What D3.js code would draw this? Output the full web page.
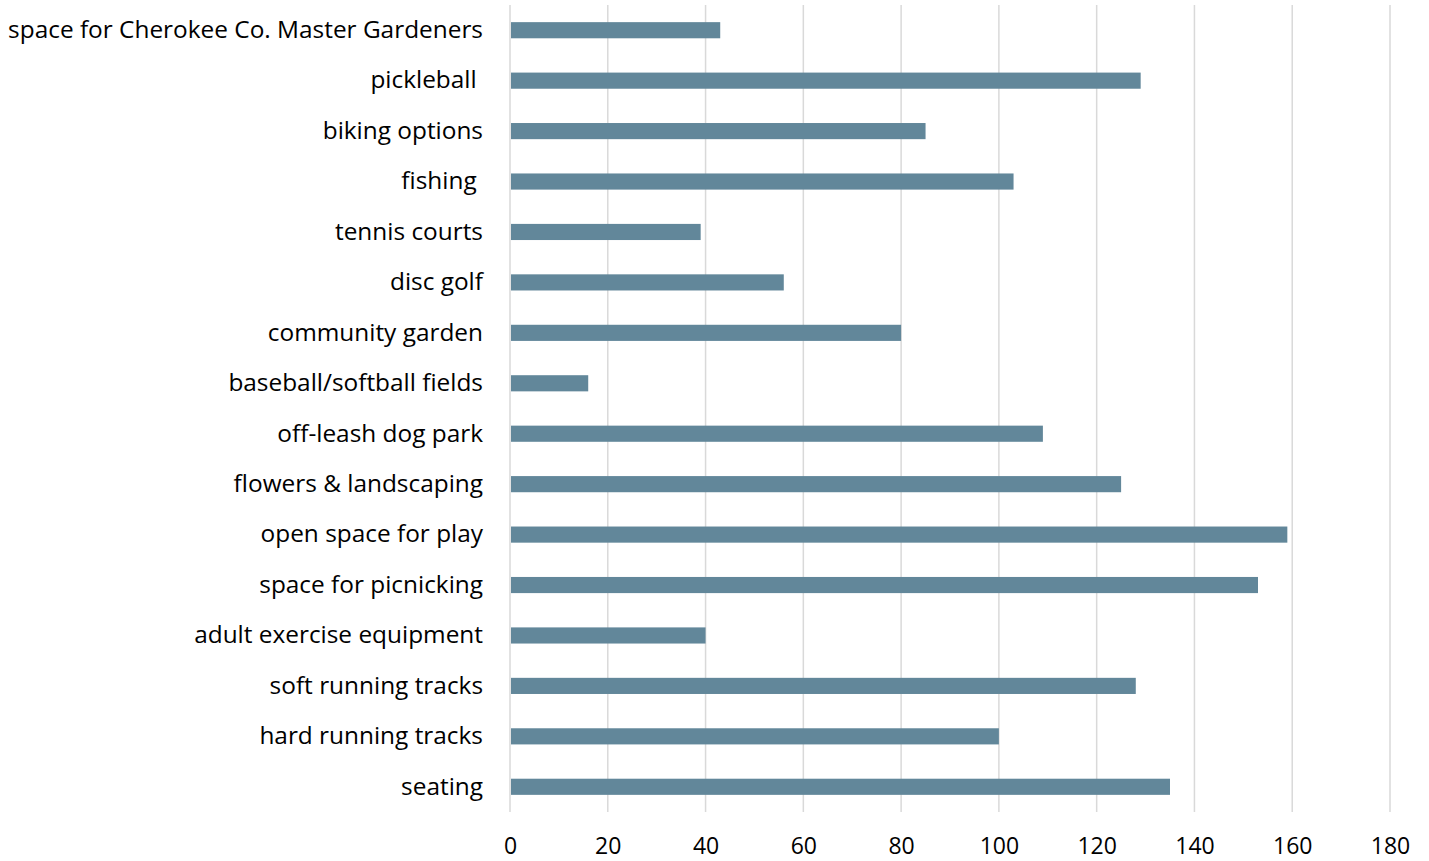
<!DOCTYPE html>
<html>
<head>
<meta charset="utf-8">
<script src="https://d3js.org/d3.v7.min.js"></script>
<style>
  body { margin: 0; background: #fff; }
  text { font-family: "Open Sans", sans-serif; fill: #000; }
</style>
</head>
<body>
<div id="chart"></div>
<script>
// categories from top to bottom, as in the picture
var categories = [
  "space for Cherokee Co. Master Gardeners",
  "pickleball ",
  "biking options",
  "fishing ",
  "tennis courts",
  "disc golf",
  "community garden",
  "baseball/softball fields",
  "off-leash dog park",
  "flowers & landscaping",
  "open space for play",
  "space for picnicking",
  "adult exercise equipment",
  "soft running tracks",
  "hard running tracks",
  "seating"
];
var counts = [43, 129, 85, 103, 39, 56, 80, 16, 109, 125, 159, 153, 40, 128, 100, 135];
var xTicks = [0, 20, 40, 60, 80, 100, 120, 140, 160, 180];

var data = categories.map(function (c, i) {
  return { name: c, value: counts[i] };
});

// set the dimensions and margins of the graph
var margin = { top: 5, right: 39, bottom: 49, left: 510 },
  width = 1429 - margin.left - margin.right,
  height = 861 - margin.top - margin.bottom;

var svg = d3
  .select("#chart")
  .append("svg")
  .attr("width", 1429)
  .attr("height", 861)
  .append("g")
  .attr("transform", "translate(" + margin.left + "," + margin.top + ")");

var x = d3.scaleLinear().domain([0, 180]).range([0, width]);
var y = d3.scaleBand().domain(categories).range([0, height]).paddingInner(0.68).paddingOuter(0.34);

// vertical gridlines
svg
  .append("g")
  .selectAll("line")
  .data(xTicks)
  .enter()
  .append("line")
  .attr("x1", function (d) { return x(d); })
  .attr("x2", function (d) { return x(d); })
  .attr("y1", 0)
  .attr("y2", height)
  .style("stroke", "#d9d9d9")
  .style("stroke-width", 1.5);

// bars
svg
  .selectAll("rect")
  .data(data)
  .enter()
  .append("rect")
  .attr("x", x(0) + 1)
  .attr("y", function (d) { return y(d.name); })
  .attr("width", function (d) { return x(d.value) - x(0) - 1; })
  .attr("height", y.bandwidth())
  .style("fill", "#62879a");

// X axis labels
var xAxis = svg
  .append("g")
  .attr("transform", "translate(0," + height + ")")
  .call(d3.axisBottom(x).tickValues(xTicks).tickSize(0).tickPadding(26));
xAxis.select(".domain").remove();
xAxis.selectAll("text").style("font-size", "23px").style("font-family", "Open Sans, sans-serif");

// Y axis labels
var yAxis = svg
  .append("g")
  .call(d3.axisLeft(y).tickSize(0).tickPadding(27));
yAxis.select(".domain").remove();
yAxis.selectAll("text").style("font-size", "24.4px").style("font-family", "Open Sans, sans-serif").style("white-space", "pre");
</script>
</body>
</html>
